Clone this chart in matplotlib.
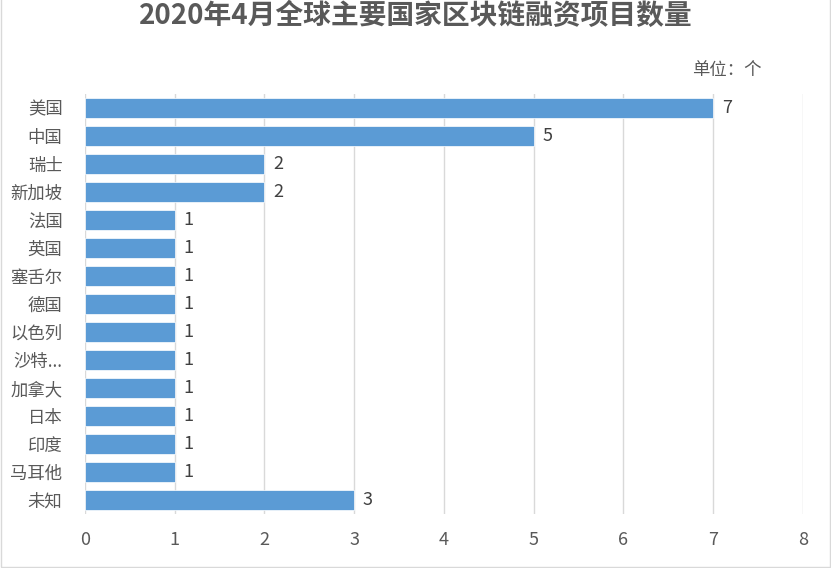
import matplotlib
matplotlib.use('Agg')
import matplotlib.pyplot as plt
import numpy as np

plt.rcParams['font.family'] = ['Noto Sans CJK SC', 'DejaVu Sans']

countries = ['美国', '中国', '瑞士', '新加坡', '法国', '英国', '塞舌尔', '德国',
             '以色列', '沙特...', '加拿大', '日本', '印度', '马耳他', '未知']
counts = [7, 5, 2, 2, 1, 1, 1, 1, 1, 1, 1, 1, 1, 1, 3]
xticks = [0, 1, 2, 3, 4, 5, 6, 7, 8]

TEXT = '#595959'
BAR = '#5B9BD5'

fig = plt.figure(figsize=(8.31, 5.68), dpi=100)
ax = fig.add_axes([0.102, 0.095, 0.864, 0.74])

ypos = np.arange(len(countries))
ax.barh(ypos, counts, height=0.72, color=BAR, edgecolor='white', linewidth=0.5, zorder=3)
for y, v in zip(ypos, counts):
    ax.text(v + 0.1, y, str(v), va='center', ha='left', fontsize=13,
            color='#404040', fontweight='light')

ax.set_ylim(len(countries) - 0.5, -0.5)
ax.set_xlim(0, 8)
ax.set_yticks(ypos)
ax.set_yticklabels(countries, fontsize=12.5, color=TEXT, fontweight='light')
ax.set_xticks(xticks)
ax.set_xticklabels([str(t) for t in xticks], fontsize=13, color=TEXT, fontweight='light')
ax.tick_params(axis='both', length=0)
ax.tick_params(axis='x', pad=12)
ax.tick_params(axis='y', pad=16)
for s in ax.spines.values():
    s.set_visible(False)
ax.xaxis.grid(True, color='#D9D9D9', linewidth=1.0, zorder=0)
ax.set_axisbelow(True)

fig.text(0.5, 0.972, '2020年4月全球主要国家区块链融资项目数量', ha='center', va='center',
         fontsize=20, fontweight='bold', color=TEXT)
fig.text(0.916, 0.877, '单位：个', ha='right', va='center', fontsize=12.5,
         color=TEXT, fontweight='light')

# light grey frame around the chart area
fig.patches.append(plt.Rectangle((0.001, 0.001), 0.998, 1.2, transform=fig.transFigure,
                                 fill=False, edgecolor='#D9D9D9', linewidth=1.0))

fig.savefig('out.png', dpi=100)
